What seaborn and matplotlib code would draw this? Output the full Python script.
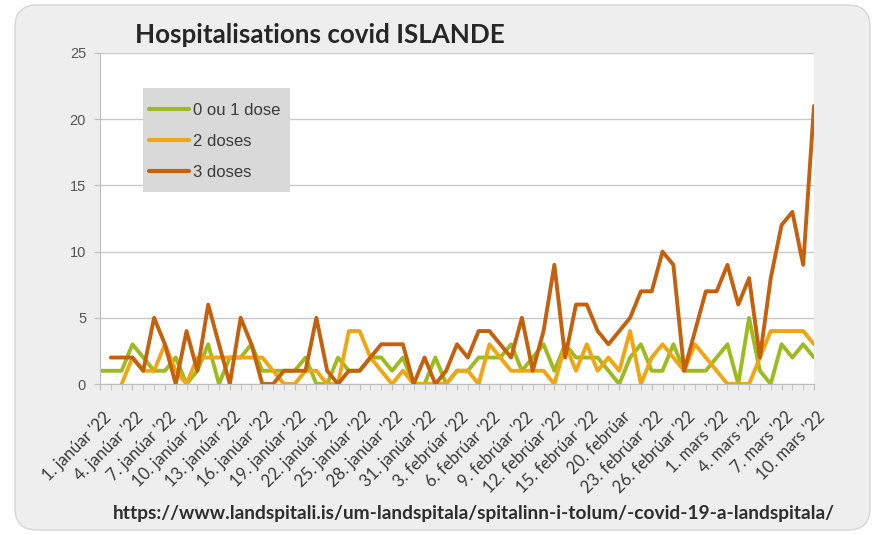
import numpy as np
import pandas as pd
import matplotlib
matplotlib.use("Agg")
import matplotlib.pyplot as plt
from matplotlib.patches import FancyBboxPatch, Rectangle
from matplotlib.transforms import ScaledTranslation
import seaborn as sns

# Daily categories: 1 Jan - 15 Feb, two mid-February days, 20 Feb - 10 Mar 2022
days = ([f"{d}. janúar '22" for d in range(1, 32)]
        + [f"{d}. febrúar '22" for d in range(1, 16)]
        + ["16. febrúar '22", "18. febrúar '22"]
        + ["20. febrúar"] + [f"{d}. febrúar '22" for d in range(21, 29)]
        + [f"{d}. mars '22" for d in range(1, 11)])

series_names = ["0 ou 1 dose", "2 doses", "3 doses"]

dose_0_1 = [1, 1, 1, 3, 2, 1, 1, 2, 0, 1, 3, 0, 2, 2, 3, 1, 1, 1, 1, 2,
            0, 0, 2, 1, 1, 2, 2, 1, 2, 0, 0, 2, 0, 1, 1, 2, 2, 2, 3, 1,
            2, 3, 1, 3, 2, 2, 2, 1, 0, 2, 3, 1, 1, 3, 1, 1, 1, 2, 3, 0,
            5, 1, 0, 3, 2, 3, 2]

dose_2 = [np.nan, np.nan, 0, 2, 1, 1, 3, 1, 0, 2, 2, 2, 2, 2, 2, 2, 1, 0, 0, 1,
          1, 0, 0, 4, 4, 2, 1, 0, 1, 0, 0, 0, 0, 1, 1, 0, 3, 2, 1, 1,
          1, 1, 0, 3, 1, 3, 1, 2, 1, 4, 0, 2, 3, 2, 1, 3, 2, 1, 0, 0,
          0, 2, 4, 4, 4, 4, 3]

dose_3 = [np.nan, 2, 2, 2, 1, 5, 3, 0, 4, 1, 6, 3, 0, 5, 3, 0, 0, 1, 1, 1,
          5, 1, 0, 1, 1, 2, 3, 3, 3, 0, 2, 0, 1, 3, 2, 4, 4, 3, 2, 5,
          1, 4, 9, 2, 6, 6, 4, 3, 4, 5, 7, 7, 10, 9, 1, 4, 7, 7, 9, 6,
          8, 2, 8, 12, 13, 9, 21]

tick_labels = ["1. janúar '22", "4. janúar '22", "7. janúar '22", "10. janúar '22",
               "13. janúar '22", "16. janúar '22", "19. janúar '22", "22. janúar '22",
               "25. janúar '22", "28. janúar '22", "31. janúar '22", "3. febrúar '22",
               "6. febrúar '22", "9. febrúar '22", "12. febrúar '22", "15. febrúar '22",
               "20. febrúar", "23. febrúar '22", "26. febrúar '22", "1. mars '22",
               "4. mars '22", "7. mars '22", "10. mars '22"]

y_ticks = [0, 5, 10, 15, 20, 25]

colors = {"0 ou 1 dose": "#9dba1e", "2 doses": "#f0a513", "3 doses": "#c5600d"}

df = pd.DataFrame({
    "pos": np.tile(np.arange(len(days)), 3),
    "jour": days * 3,
    "serie": np.repeat(series_names, len(days)),
    "valeur": dose_0_1 + dose_2 + dose_3,
}).dropna()

sns.set_style("white")
plt.rcParams["font.family"] = ["Lato", "DejaVu Sans"]

W, H = 877, 535
fig = plt.figure(figsize=(W / 100, H / 100), dpi=100, facecolor="white")

# rounded grey card behind the chart
card = FancyBboxPatch((15 / W, 5 / H), 855 / W, 525 / H,
                      boxstyle="round,pad=0,rounding_size=0.025",
                      transform=fig.transFigure, facecolor="#eeeeee",
                      edgecolor="#d6d6d6", linewidth=1.0, zorder=-5,
                      mutation_aspect=W / H)
fig.patches.append(card)

# plot area in pixels: x 100..814, y 53..384
ax_l, ax_r, ax_t, ax_b = 100, 814, 53, 384
ax = fig.add_axes([ax_l / W, 1 - ax_b / H, (ax_r - ax_l) / W, (ax_b - ax_t) / H], zorder=2)
ax.set_facecolor("white")

sns.lineplot(data=df, x="pos", y="valeur", hue="serie", hue_order=series_names,
             palette=colors, linewidth=2.8, ax=ax, sort=False)

ax.set_xlim(0, len(days) - 1)
ax.set_ylim(0, 25)
ax.set_xlabel("")
ax.set_ylabel("")

# grid and axes
ax.set_yticks(y_ticks)
ax.yaxis.grid(True, color="#c9c9c9", linewidth=1.0)
ax.set_axisbelow(True)
for side in ["top", "right"]:
    ax.spines[side].set_visible(False)
ax.spines["left"].set_color("#bdbdbd")
ax.spines["bottom"].set_color("#bdbdbd")
ax.tick_params(axis="y", which="major", direction="out", length=4, color="#bdbdbd",
               labelsize=10.5, labelcolor="#555555", pad=6, left=True)
for lbl in ax.get_yticklabels():
    lbl.set_family(["Liberation Sans", "DejaVu Sans"])

ax.set_xticks(np.arange(0, len(days), 3))
ax.set_xticks(np.arange(len(days)), minor=True)
ax.set_xticklabels(tick_labels, rotation=45, ha="right", va="top",
                   rotation_mode="anchor", fontsize=12, color="#3a3a3a")
ax.tick_params(axis="x", which="both", direction="out", length=4, color="#bdbdbd",
               pad=14, bottom=True)
shift = ScaledTranslation(3 / 100, 0, fig.dpi_scale_trans)
for lbl in ax.get_xticklabels():
    lbl.set_transform(lbl.get_transform() + shift)

# legend: grey box drawn as a patch, entries placed inside it
def ax_x(px):
    return (px - ax_l) / (ax_r - ax_l)

def ax_y(py):
    return (ax_b - py) / (ax_b - ax_t)

box = Rectangle((ax_x(143), ax_y(192)), ax_x(290) - ax_x(143), ax_y(88) - ax_y(192),
                transform=ax.transAxes, facecolor="#d9d9d9", edgecolor="none", zorder=4)
ax.add_patch(box)

handles, labels = ax.get_legend_handles_labels()
leg = ax.legend(handles, labels, loc="upper left", bbox_to_anchor=(ax_x(149), ax_y(103)),
                frameon=False, handlelength=2.4, handletextpad=0.25, labelspacing=0.95,
                borderpad=0, borderaxespad=0,
                prop={"family": ["Liberation Sans", "DejaVu Sans"], "size": 12})
leg.set_zorder(5)
for t in leg.get_texts():
    t.set_color("#3a3a3a")
for h in leg.get_lines():
    h.set_linewidth(3.0)

fig.text(135 / W, 1 - 35 / H, "Hospitalisations covid ISLANDE",
         fontsize=18.7, fontweight="bold", color="#262626", va="center", ha="left")

fig.text(113 / W, 1 - 513 / H,
         "https://www.landspitali.is/um-landspitala/spitalinn-i-tolum/-covid-19-a-landspitala/",
         fontsize=13.75, fontweight="bold", color="#2e2e2e", va="center", ha="left")

fig.savefig("out.png", dpi=100, facecolor="white")
